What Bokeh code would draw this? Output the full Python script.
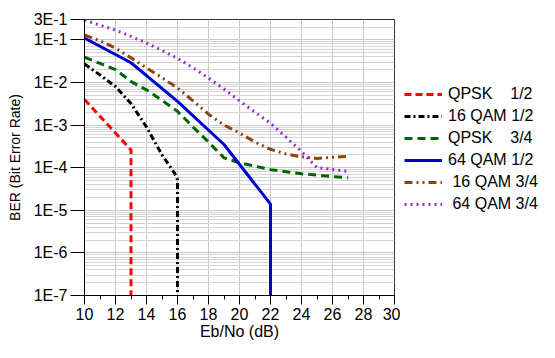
from bokeh.plotting import figure
from bokeh.layouts import row
from bokeh.models import FixedTicker, Legend, LegendItem, Range1d
from bokeh.embed import file_html
from bokeh.resources import INLINE

# ---- data ----
qpsk12_x = [10, 11, 12, 13, 13]
qpsk12_y = [4.0e-3, 1.6e-3, 6.5e-4, 2.6e-4, 1e-7]

qam16_12_x = [10, 11, 12, 13, 14, 15, 15.8, 16, 16]
qam16_12_y = [2.7e-2, 1.5e-2, 8.0e-3, 3.2e-3, 9.0e-4, 2.0e-4, 7.5e-5, 5.2e-5, 1e-7]

qpsk34_x = [10, 11, 12, 13, 14, 15, 16, 17, 18, 19, 20, 22, 24, 26, 27]
qpsk34_y = [3.9e-2, 2.8e-2, 2.0e-2, 1.05e-2, 6.7e-3, 3.8e-3, 2.1e-3, 9.0e-4,
            4.0e-4, 1.7e-4, 1.3e-4, 9.0e-5, 7.2e-5, 6.2e-5, 5.8e-5]

qam64_12_x = [10, 13, 16, 19, 22, 22]
qam64_12_y = [1.1e-1, 2.9e-2, 3.6e-3, 3.5e-4, 1.4e-5, 1e-7]

qam16_34_x = [10, 11, 12, 13, 14, 15, 16, 17, 18, 19, 20, 21, 22, 23, 24, 25, 26, 27]
qam16_34_y = [1.3e-1, 9.5e-2, 6.4e-2, 3.8e-2, 2.2e-2, 1.3e-2, 7.4e-3, 3.7e-3, 1.8e-3,
              1.0e-3, 6.5e-4, 4.0e-4, 2.7e-4, 2.1e-4, 1.8e-4, 1.65e-4, 1.75e-4, 1.85e-4]

qam64_34_x = [10, 11, 12, 13, 14, 15, 16, 17, 18, 19, 20, 21, 22, 23, 24, 25, 26, 27]
qam64_34_y = [2.9e-1, 2.2e-1, 1.7e-1, 1.2e-1, 8.4e-2, 5.6e-2, 3.7e-2, 2.2e-2, 1.27e-2,
              7.0e-3, 3.7e-3, 2.0e-3, 1.1e-3, 5.2e-4, 2.4e-4, 1.0e-4, 9.0e-5, 8.2e-5]

y_tick_values = [3e-1, 1e-1, 1e-2, 1e-3, 1e-4, 1e-5, 1e-6, 1e-7]
y_tick_labels = ["3E-1", "1E-1", "1E-2", "1E-3", "1E-4", "1E-5", "1E-6", "1E-7"]
x_tick_values = [10, 12, 14, 16, 18, 20, 22, 24, 26, 28, 30]
x_minor_values = [11, 13, 15, 17, 19, 21, 23, 25, 27, 29]

legend_labels = ["QPSK    1/2", "16 QAM 1/2", "QPSK    3/4",
                 "64 QAM 1/2", " 16 QAM 3/4", " 64 QAM 3/4"]

styles = [
    dict(line_color="#ff0000", line_width=3, line_dash="7 4"),
    dict(line_color="black", line_width=3, line_dash="6 3 2 3"),
    dict(line_color="#006400", line_width=3, line_dash="8 5"),
    dict(line_color="#0000cc", line_width=3),
    dict(line_color="#8b4513", line_width=3, line_dash="8 4 2 4 2 4"),
    dict(line_color="#9932cc", line_width=3, line_dash="2 4"),
]
series = [(qpsk12_x, qpsk12_y), (qam16_12_x, qam16_12_y), (qpsk34_x, qpsk34_y),
          (qam64_12_x, qam64_12_y), (qam16_34_x, qam16_34_y), (qam64_34_x, qam64_34_y)]

FONT = "Liberation Sans"
H = 342

p = figure(width=400, height=H, y_axis_type="log",
           x_range=Range1d(10, 30), y_range=Range1d(1e-7, 3e-1),
           output_backend="svg", toolbar_location=None,
           min_border_left=84, min_border_top=19, min_border_bottom=47,
           min_border_right=6)
p.background_fill_color = "white"
p.border_fill_color = "white"
p.outline_line_color = "#333333"
p.outline_line_width = 1

# y minor ticks (log decades)
minor_y = []
for e in range(-7, 0):
    for k in range(2, 10):
        v = k * 10.0 ** e
        if v <= 3e-1:
            minor_y.append(v)

p.yaxis.ticker = FixedTicker(ticks=y_tick_values, minor_ticks=minor_y)
p.yaxis.major_label_overrides = {v: l for v, l in zip(y_tick_values, y_tick_labels)}
p.xaxis.ticker = FixedTicker(ticks=x_tick_values, minor_ticks=x_minor_values)

for ax in (p.xaxis[0], p.yaxis[0]):
    ax.axis_line_color = "black"
    ax.major_tick_line_color = "black"
    ax.major_tick_in = 0
    ax.minor_tick_in = 0
    ax.major_label_text_font = FONT
    ax.major_label_text_font_size = "16px"
    ax.major_label_text_color = "black"
    ax.axis_label_text_font = FONT
    ax.axis_label_text_font_style = "normal"
    ax.axis_label_text_color = "black"

p.yaxis.major_tick_out = 14
p.yaxis.minor_tick_line_color = None
p.yaxis.major_label_standoff = 3
p.yaxis.axis_label = "BER (Bit Error Rate)"
p.yaxis.axis_label_text_font_size = "14px"
p.yaxis.axis_label_standoff = 8

p.xaxis.major_tick_out = 9
p.xaxis.minor_tick_out = 4
p.xaxis.minor_tick_line_color = "black"
p.xaxis.major_label_standoff = 3
p.xaxis.axis_label = "Eb/No (dB)"
p.xaxis.axis_label_text_font_size = "16px"
p.xaxis.axis_label_standoff = 0

p.xgrid.grid_line_color = "#c8c8c8"
p.xgrid.grid_line_width = 1
p.ygrid.grid_line_color = "#c8c8c8"
p.ygrid.minor_grid_line_color = "#d4d4d4"

for (xs, ys), st in zip(series, styles):
    p.line(xs, ys, **st)

# legend panel (separate figure to the right, so the legend is not clipped)
lg = figure(width=139, height=H, output_backend="svg", toolbar_location=None,
            x_range=Range1d(0, 1), y_range=Range1d(0, 1),
            min_border=0, min_border_left=0, min_border_right=0,
            min_border_top=0, min_border_bottom=0)
lg.axis.visible = False
lg.grid.visible = False
lg.outline_line_color = None
lg.background_fill_color = "white"
lg.border_fill_color = "white"

items = []
for lab, (xs, ys), st in zip(legend_labels, series, styles):
    # one-point line (outside this panel's range): only feeds the legend swatch
    r = lg.line(xs[:1], ys[:1], **st)
    items.append(LegendItem(label=lab, renderers=[r]))

legend = Legend(items=items, location=(4, 80), padding=0, margin=0,
                border_line_color=None, background_fill_alpha=0,
                glyph_width=38, glyph_height=22, label_height=22,
                label_standoff=6, spacing=0,
                label_text_font=FONT, label_text_font_size="16px",
                label_text_color="black")
lg.add_layout(legend, "center")

layout = row(p, lg, spacing=0)
open("out.html", "w").write(file_html(layout, INLINE))
